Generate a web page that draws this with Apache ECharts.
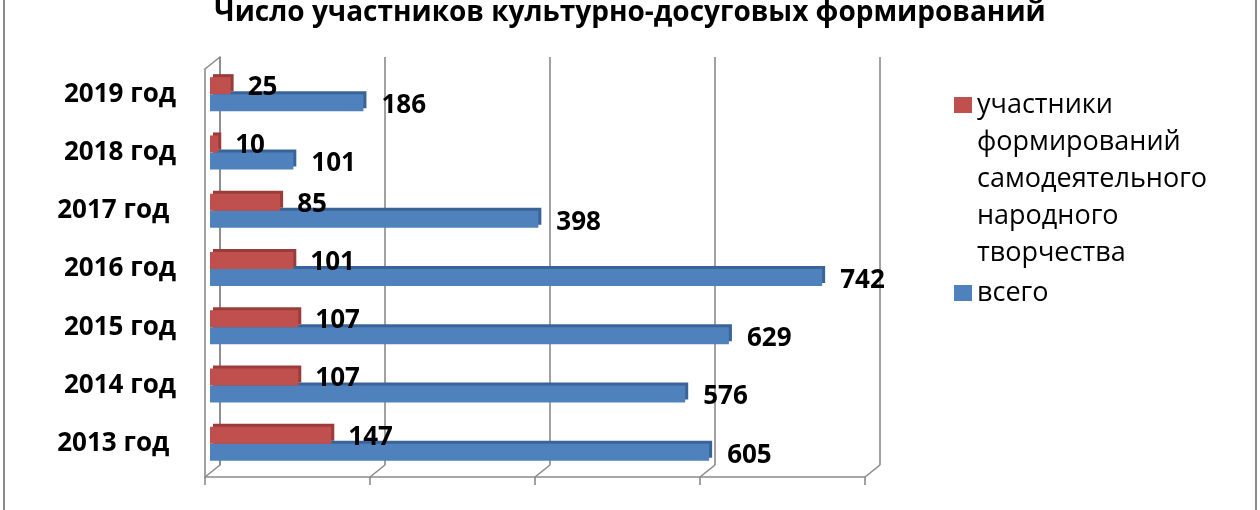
<!DOCTYPE html>
<html>
<head>
<meta charset="utf-8">
<script src="https://cdn.jsdelivr.net/npm/echarts@6/dist/echarts.min.js"></script>
<style>
  html, body { margin: 0; padding: 0; background: #fff; }
  #chart { width: 1260px; height: 510px; }
  .edge { position: absolute; top: 0; width: 2px; height: 510px; background: #8a8a8a; }
</style>
</head>
<body>
<div id="chart"></div>
<div class="edge" style="left:3px"></div>
<div class="edge" style="left:1255px"></div>
<script>
const years = ['2013 год ', '2014 год', '2015 год', '2016 год', '2017 год ', '2018 год', '2019 год'];
const members = [147, 107, 107, 101, 85, 10, 25];
const total = [605, 576, 629, 742, 398, 101, 186];
const xTicks = [0, 200, 400, 600, 800];
const membersName = 'участники формирований самодеятельного народного творчества';
const totalName = 'всего';

const gridColor = '#8a8a8a';
const font = 'Open Sans';

const valueAxis = (gridIndex, extra) => Object.assign({
    type: 'value',
    gridIndex: gridIndex,
    min: 0,
    max: 800,
    interval: 200,
    axisLabel: { show: false },
    axisTick: { show: false },
    axisLine: { show: false },
    splitLine: { show: false }
}, extra);

let chart = echarts.init(document.getElementById('chart'));
let option = {
    animation: false,
    title: {
        text: 'Число участников культурно-досуговых формирований',
        left: 'center',
        top: -2,
        padding: 0,
        textStyle: { fontFamily: font, fontSize: 28, fontWeight: 'bold', color: '#000', lineHeight: 30 }
    },
    legend: {
        orient: 'vertical',
        left: 954,
        top: -61.5,
        padding: 0,
        itemGap: 3,
        itemWidth: 18,
        itemHeight: 16,
        icon: 'rect',
        data: [membersName, totalName],
        // long name: one word per line, first line level with the marker
        formatter: n => n === membersName ? '\n\n\n\n' + n.split(' ').join('\n') : n,
        textStyle: { fontFamily: font, fontSize: 27, lineHeight: 37, color: '#000' }
    },
    grid: [
        { left: 210, width: 660, top: 65, height: 408 },
        { left: 220, width: 660, top: 57, height: 408 },
        { left: 205, width: 660, top: 69, height: 408 }
    ],
    xAxis: [
        valueAxis(0),
        valueAxis(1, { splitLine: { show: true, lineStyle: { color: gridColor, width: 1.6 } } }),
        valueAxis(2, {
            axisLine: { show: true, lineStyle: { color: gridColor, width: 1.6 } },
            axisTick: { show: true, length: 8, lineStyle: { color: gridColor, width: 1.6 } }
        })
    ],
    yAxis: [
        {
            type: 'category',
            gridIndex: 0,
            data: years,
            axisLine: { show: false },
            axisTick: { show: false },
            axisLabel: {
                margin: 34,
                padding: [10, 0, 0, 0],
                fontFamily: font, fontSize: 26, fontWeight: 'bold', color: '#000'
            }
        },
        {
            type: 'category',
            gridIndex: 1,
            data: years,
            axisLabel: { show: false },
            axisTick: { show: false },
            axisLine: { show: true, lineStyle: { color: gridColor, width: 1.6 } }
        },
        {
            type: 'value',
            gridIndex: 2,
            min: 0,
            max: 1,
            axisLabel: { show: false },
            axisTick: { show: false },
            splitLine: { show: false },
            axisLine: { show: true, lineStyle: { color: gridColor, width: 1.6 } }
        }
    ],
    series: [
        {
            name: membersName,
            type: 'bar',
            data: members,
            barWidth: 17,
            barGap: '0%',
            z: 4,
            itemStyle: {
                color: '#C0504D',
                shadowColor: '#9A3D3A',
                shadowOffsetX: 3,
                shadowOffsetY: -3,
                shadowBlur: 0
            },
            label: {
                show: true,
                position: 'right',
                offset: [12, 2],
                fontFamily: font, fontSize: 26, fontWeight: 'bold', color: '#000'
            }
        },
        {
            name: totalName,
            type: 'bar',
            data: total,
            barWidth: 17,
            z: 3,
            itemStyle: {
                color: '#4F81BD',
                shadowColor: '#3A6498',
                shadowOffsetX: 3,
                shadowOffsetY: -3,
                shadowBlur: 0
            },
            label: {
                show: true,
                position: 'right',
                offset: [13, 3],
                fontFamily: font, fontSize: 26, fontWeight: 'bold', color: '#000'
            }
        },
        {
            // diagonal edges joining front axis to the back wall
            type: 'custom',
            xAxisIndex: 2,
            yAxisIndex: 2,
            silent: true,
            data: xTicks.map(v => [v, 0]).concat([[0, 1]]),
            renderItem: (params, api) => {
                let p = api.coord([api.value(0), api.value(1)]);
                return {
                    type: 'line',
                    shape: { x1: p[0], y1: p[1], x2: p[0] + 15, y2: p[1] - 12 },
                    style: { stroke: gridColor, lineWidth: 1.6 }
                };
            }
        }
    ]
};
chart.setOption(option);
</script>
</body>
</html>
